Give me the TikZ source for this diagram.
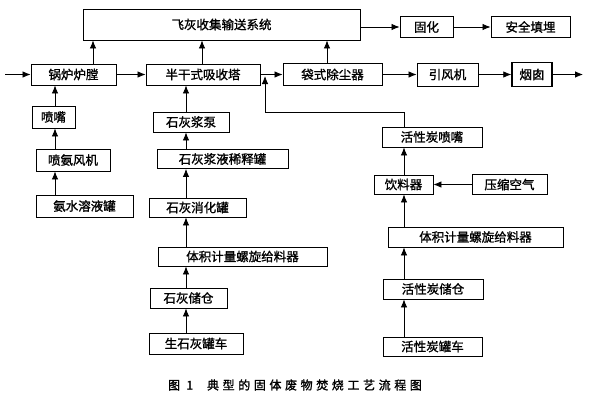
\documentclass[tikz,border=0pt]{standalone}
\usepackage{fontspec}
\setmainfont{Noto Sans CJK SC}
\usetikzlibrary{arrows.meta}
\begin{document}
\begin{tikzpicture}[x=1pt,y=-1pt,
  box/.style={draw,line width=0.9pt,inner sep=0pt,font=\fontsize{12.5}{13}\selectfont\addfontfeature{FakeBold=1.2}},
  arr/.style={line width=0.8pt,-{Latex[length=8pt,width=6.5pt]}},
  ln/.style={line width=0.8pt}]
\useasboundingbox (0,0) rectangle (600,400);
% top row
\node[box,minimum width=277pt,minimum height=31pt] (top) at (221.5,24.5) {飞灰收集输送系统};
\node[box,minimum width=53pt,minimum height=21pt] (guhua) at (426.5,27) {固化};
\node[box,minimum width=79pt,minimum height=21pt] (anquan) at (530.5,27) {安全填埋};
% main line
\node[box,minimum width=85pt,minimum height=21pt] (guolu) at (73.5,74.5) {锅炉炉膛};
\node[box,minimum width=114pt,minimum height=21pt] (xishou) at (203,74.5) {半干式吸收塔};
\node[box,minimum width=99pt,minimum height=22pt] (daishi) at (332.5,74.5) {袋式除尘器};
\node[box,minimum width=61pt,minimum height=23pt] (yinfeng) at (447.5,74.5) {引风机};
\node[box,line width=1.4pt,minimum width=40pt,minimum height=24pt] (yancong) at (532,74.5) {烟囱};
% left column
\node[box,minimum width=43pt,minimum height=22pt] (penzui) at (53.5,117) {喷嘴};
\node[box,minimum width=74pt,minimum height=22pt] (penan) at (73,160) {喷氨风机};
\node[box,minimum width=97pt,minimum height=22pt] (anshui) at (84.5,206) {氨水溶液罐};
% middle column
\node[box,minimum width=76pt,minimum height=20pt] (beng) at (191,122) {石灰浆泵};
\node[box,minimum width=131pt,minimum height=19pt] (xishi) at (222.5,159) {石灰浆液稀释罐};
\node[box,minimum width=97pt,minimum height=19pt] (xiaohua) at (197.5,207.5) {石灰消化罐};
\node[box,minimum width=169pt,minimum height=19pt] (geiA) at (242.5,256.5) {体积计量螺旋给料器};
\node[box,minimum width=77pt,minimum height=20pt] (cangA) at (188.5,298) {石灰储仓};
\node[box,minimum width=94pt,minimum height=21pt] (cheA) at (196,343.5) {生石灰罐车};
% right column
\node[box,minimum width=100pt,minimum height=20pt] (hxpz) at (432,137) {活性炭喷嘴};
\node[box,minimum width=59pt,minimum height=19pt] (yinliao) at (403.5,184.5) {饮料器};
\node[box,minimum width=75pt,minimum height=20pt] (yasuo) at (509.5,184.5) {压缩空气};
\node[box,minimum width=175pt,minimum height=20pt] (geiB) at (475.5,237) {体积计量螺旋给料器};
\node[box,minimum width=100pt,minimum height=20pt] (cangB) at (433,289) {活性炭储仓};
\node[box,minimum width=99pt,minimum height=19pt] (cheB) at (432.5,346.5) {活性炭罐车};
% caption
\node[font=\fontsize{12}{13}\selectfont\addfontfeature{FakeBold=1.5,LetterSpace=30}] (cap) at (295,385) {图 1\hspace{14pt}典型的固体废物焚烧工艺流程图};
% coordinates
\coordinate (in) at (5,74.5);
\coordinate (out) at (583,74.5);
\coordinate (lx) at (55,0);
\coordinate (mx) at (186,0);
\coordinate (rx) at (404,0);
\coordinate (bend) at (265,112);
\coordinate (j) at (265,76);
% main connectors
\draw[arr] (in) -- (guolu.west);
\draw[arr] (guolu.east) -- (xishou.west);
\draw[arr] (xishou.east) -- (daishi.west);
\draw[arr] (daishi.east) -- (yinfeng.west);
\draw[arr] (yinfeng.east) -- (yancong.west);
\draw[arr] (yancong.east) -- (out);
\draw[arr] ([xshift=19.5pt]guolu.north) -- ([xshift=19.5pt]guolu.north |- top.south);
\draw[arr] ([xshift=-1pt]xishou.north) -- ([xshift=-1pt]xishou.north |- top.south);
\draw[arr] ([xshift=-5.5pt]daishi.north) -- ([xshift=-5.5pt]daishi.north |- top.south);
\draw[arr] (top.east |- guhua.west) -- (guhua.west);
\draw[arr] (guhua.east) -- (anquan.west);
% left column
\draw[arr] (lx |- penzui.north) -- (lx |- guolu.south);
\draw[arr] (lx |- penan.north) -- (lx |- penzui.south);
\draw[arr] (lx |- anshui.north) -- (lx |- penan.south);
% middle column
\draw[arr] (mx |- beng.north) -- (mx |- xishou.south);
\draw[arr] (mx |- xishi.north) -- (mx |- beng.south);
\draw[arr] (mx |- xiaohua.north) -- (mx |- xishi.south);
\draw[arr] (mx |- geiA.north) -- (mx |- xiaohua.south);
\draw[arr] (mx |- cangA.north) -- (mx |- geiA.south);
\draw[arr] (mx |- cheA.north) -- (mx |- cangA.south);
% right column
\draw[arr] (rx |- cheB.north) -- (rx |- cangB.south);
\draw[arr] (rx |- cangB.north) -- (rx |- geiB.south);
\draw[arr] (rx |- geiB.north) -- (rx |- yinliao.south);
\draw[arr] (rx |- yinliao.north) -- (rx |- hxpz.south);
\draw[arr] (yasuo.west) -- (yinliao.east);
\draw[ln] (rx |- hxpz.north) |- (bend);
\draw[arr] (bend) -- (j);
\end{tikzpicture}
\end{document}
